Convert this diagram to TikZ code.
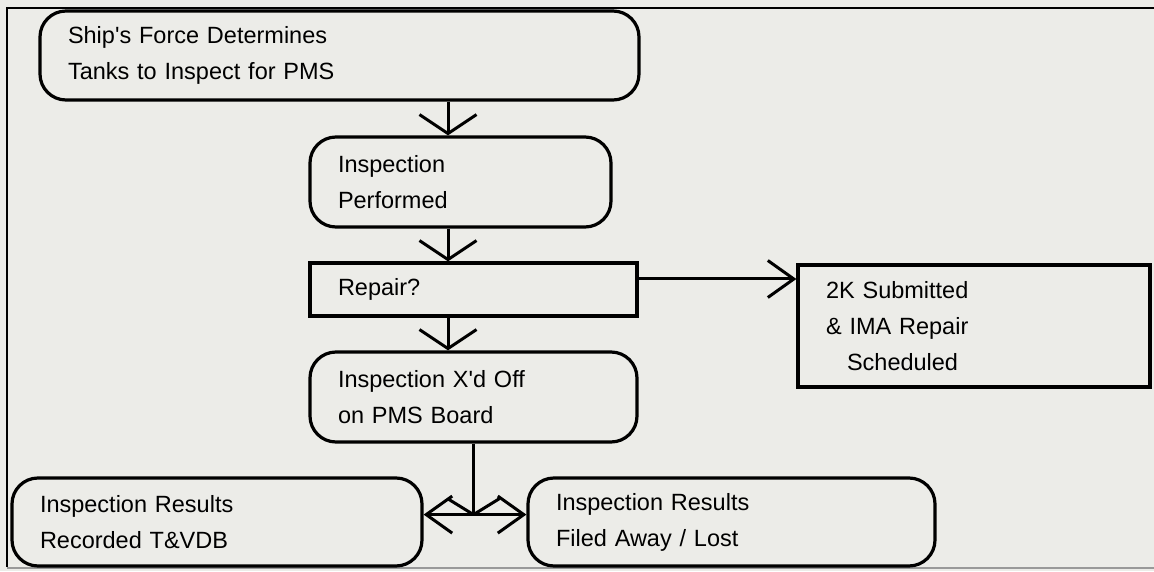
\documentclass[tikz,border=0pt]{standalone}
\usepackage{fontspec}
\setmainfont{Liberation Sans}
\usetikzlibrary{arrows.meta}
\definecolor{paper}{RGB}{236,236,232}
\tikzset{
        boxnode/.style={align=left, inner xsep=28pt, inner ysep=0pt, draw=black, line width=3.2pt, font=\fontsize{23.5pt}{36pt}\selectfont},
        % Rounded boxes
        node_round/.style={boxnode, rectangle, rounded corners=26pt},
        % Square boxes
        node_square/.style={boxnode, rectangle},
        % Links down the chart
        link_down/.style={line width=3pt, -{Straight Barb[length=19pt, width=57pt]}},
        % Links to the side
        link_side/.style={line width=3pt, -{Straight Barb[length=26pt, width=37pt]}}
}

\begin{document}
\begin{tikzpicture}[x=1pt, y=1pt]
    \fill[paper] (0,0) rectangle (1154,571);
    \useasboundingbox (0,0) rectangle (1154,571);
    % frame
    \draw[line width=2pt] (1154,563) -- (7,563) -- (7,4);
    \draw[line width=1.4pt, black!40] (7,3) -- (1154,3);

    \node[node_round, text width=543pt, minimum height=89pt] (force) at (339.5,515.5) {Ship\textquotesingle s Force Determines\\Tanks to Inspect for PMS};
    \node[node_round, text width=245pt, minimum height=90pt] (performed) at (460.5,389) {Inspection\\Performed};
    \node[node_square, text width=271pt, minimum height=53pt] (repair) at (473.5,281.5) {Repair?};
    \node[node_round, text width=271pt, minimum height=90pt] (xoff) at (473.5,174) {Inspection X\textquotesingle d Off\\on PMS Board};
    \node[node_square, text width=296pt, minimum height=122pt] (twok) at (974,245) {2K Submitted\\\& IMA Repair\\\hspace*{21pt}Scheduled};
    \node[node_round, text width=354pt, minimum height=88pt] (recorded) at (217,49) {Inspection Results\\Recorded T\&VDB};
    \node[node_round, text width=351pt, minimum height=88pt] (filed) at (731.5,49) {Inspection Results\\Filed Away / Lost};

    \coordinate (spine) at (448,0);
    \draw[link_down] (force.south -| spine) -- (performed.north -| spine);
    \draw[link_down] (performed.south -| spine) -- (repair.north -| spine);
    \draw[link_down] (repair.south -| spine) -- (xoff.north -| spine);
    \coordinate (rside) at ([yshift=10.5pt]repair.east);
    \draw[link_side] (rside) -- (rside -| twok.west);
    \coordinate (split) at ([yshift=-71pt]xoff.south);
    \draw[line width=3pt] (xoff.south) -- (split);
    \draw[link_side] (split) -- (split -| recorded.east);
    \draw[link_side] (split) -- (split -| filed.west);
    \draw[line width=3pt] (split) -- ++(-26,16) (split) -- ++(26,16);
\end{tikzpicture}
\end{document}
